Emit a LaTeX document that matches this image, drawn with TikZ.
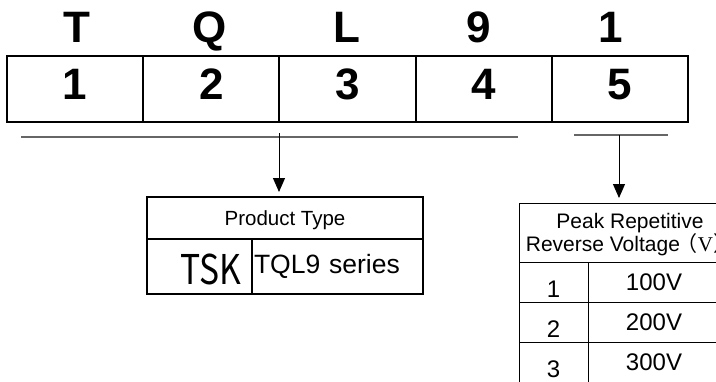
\documentclass[tikz,border=0pt]{standalone}
\usepackage{fontspec}
\setmainfont{Liberation Sans}
\newfontfamily\cjk{Noto Sans CJK SC}
\newfontfamily\tskfont[FakeStretch=0.82]{Noto Sans CJK SC}
\newfontfamily\vfont{Liberation Serif}
\usetikzlibrary{arrows.meta}

\begin{document}
\begin{tikzpicture} [x=1pt, y=-1pt,
	cell/.style = {draw, line width=2pt, minimum width=136.2pt, minimum height=66pt, inner sep=0pt, text depth=9pt, font=\fontsize{44}{44}\selectfont\bfseries},
	code/.style = {anchor=base, inner sep=0pt, font=\fontsize{44}{44}\selectfont\bfseries},
	bar/.style = {black!60, line width=1.5pt},
	arr/.style = {-{Triangle[length=14pt,width=12pt]}, line width=1pt, shorten >=5pt},
	pbox/.style = {draw, line width=2pt, inner sep=0pt, outer sep=0pt},
	tab/.style = {draw, line width=0.9pt, inner sep=0pt, outer sep=0pt, minimum height=40pt, font=\fontsize{24}{24}\selectfont}]
\useasboundingbox (0,0) rectangle (716,381);
\def\xsep{136.2}
\def\ysep{40}
\foreach \i/\ch/\cx in {1/T/77,2/Q/210,3/L/347,4/9/479,5/1/611} {
	\node[cell] (\i) at ({7+\xsep*(\i-0.5)},89) {\i};
	\node[code] (c\i) at (\cx,42) {\ch};
}
\coordinate (b1) at (21,137);
\coordinate (b2) at (518,137);
\coordinate (b3) at (574,135);
\coordinate (b4) at (668,135);
\coordinate (a1) at (279,133);
\coordinate (a2) at (619,135);
\draw[bar] (b1) -- (b2);
\draw[bar] (b3) -- (b4);
\node[pbox, minimum width=276pt, minimum height=42pt, text depth=0pt, font=\fontsize{20.5}{20.5}\selectfont] (pt) at (285,218) {Product Type};
\node[pbox, minimum width=105pt, minimum height=55pt, anchor=north west, text width=83pt, text height=36pt, align=right, font=\tskfont\fontsize{41}{41}\selectfont] (p1) at (pt.south west) {TSK};
\node[pbox, minimum width=171pt, minimum height=55pt, anchor=north east, text width=167pt, align=left, font=\fontsize{26.5}{26.5}\selectfont] (p2) at (pt.south east) {TQL9 series};
\node[tab, minimum width=222pt, minimum height=59pt, align=center, text depth=0pt, font=\fontsize{21}{23}\selectfont] (vh) at (630,232.5) {Peak Repetitive\\Reverse Voltage\kern-3pt{\cjk （}{\vfont V}{\cjk ）}};
\foreach \r/\v in {1/100V,2/200V,3/300V} {
	\node[tab, minimum width=69pt, text height=31pt] (n\r) at (553.5,{242+\ysep*\r}) {\r};
	\node[tab, minimum width=132pt] (v\r) at (654,{242+\ysep*\r}) {\v};
}
\draw[arr] (a1) -- (a1 |- pt.north);
\draw[arr] (a2) -- (a2 |- vh.north);
\end{tikzpicture}
\end{document}
